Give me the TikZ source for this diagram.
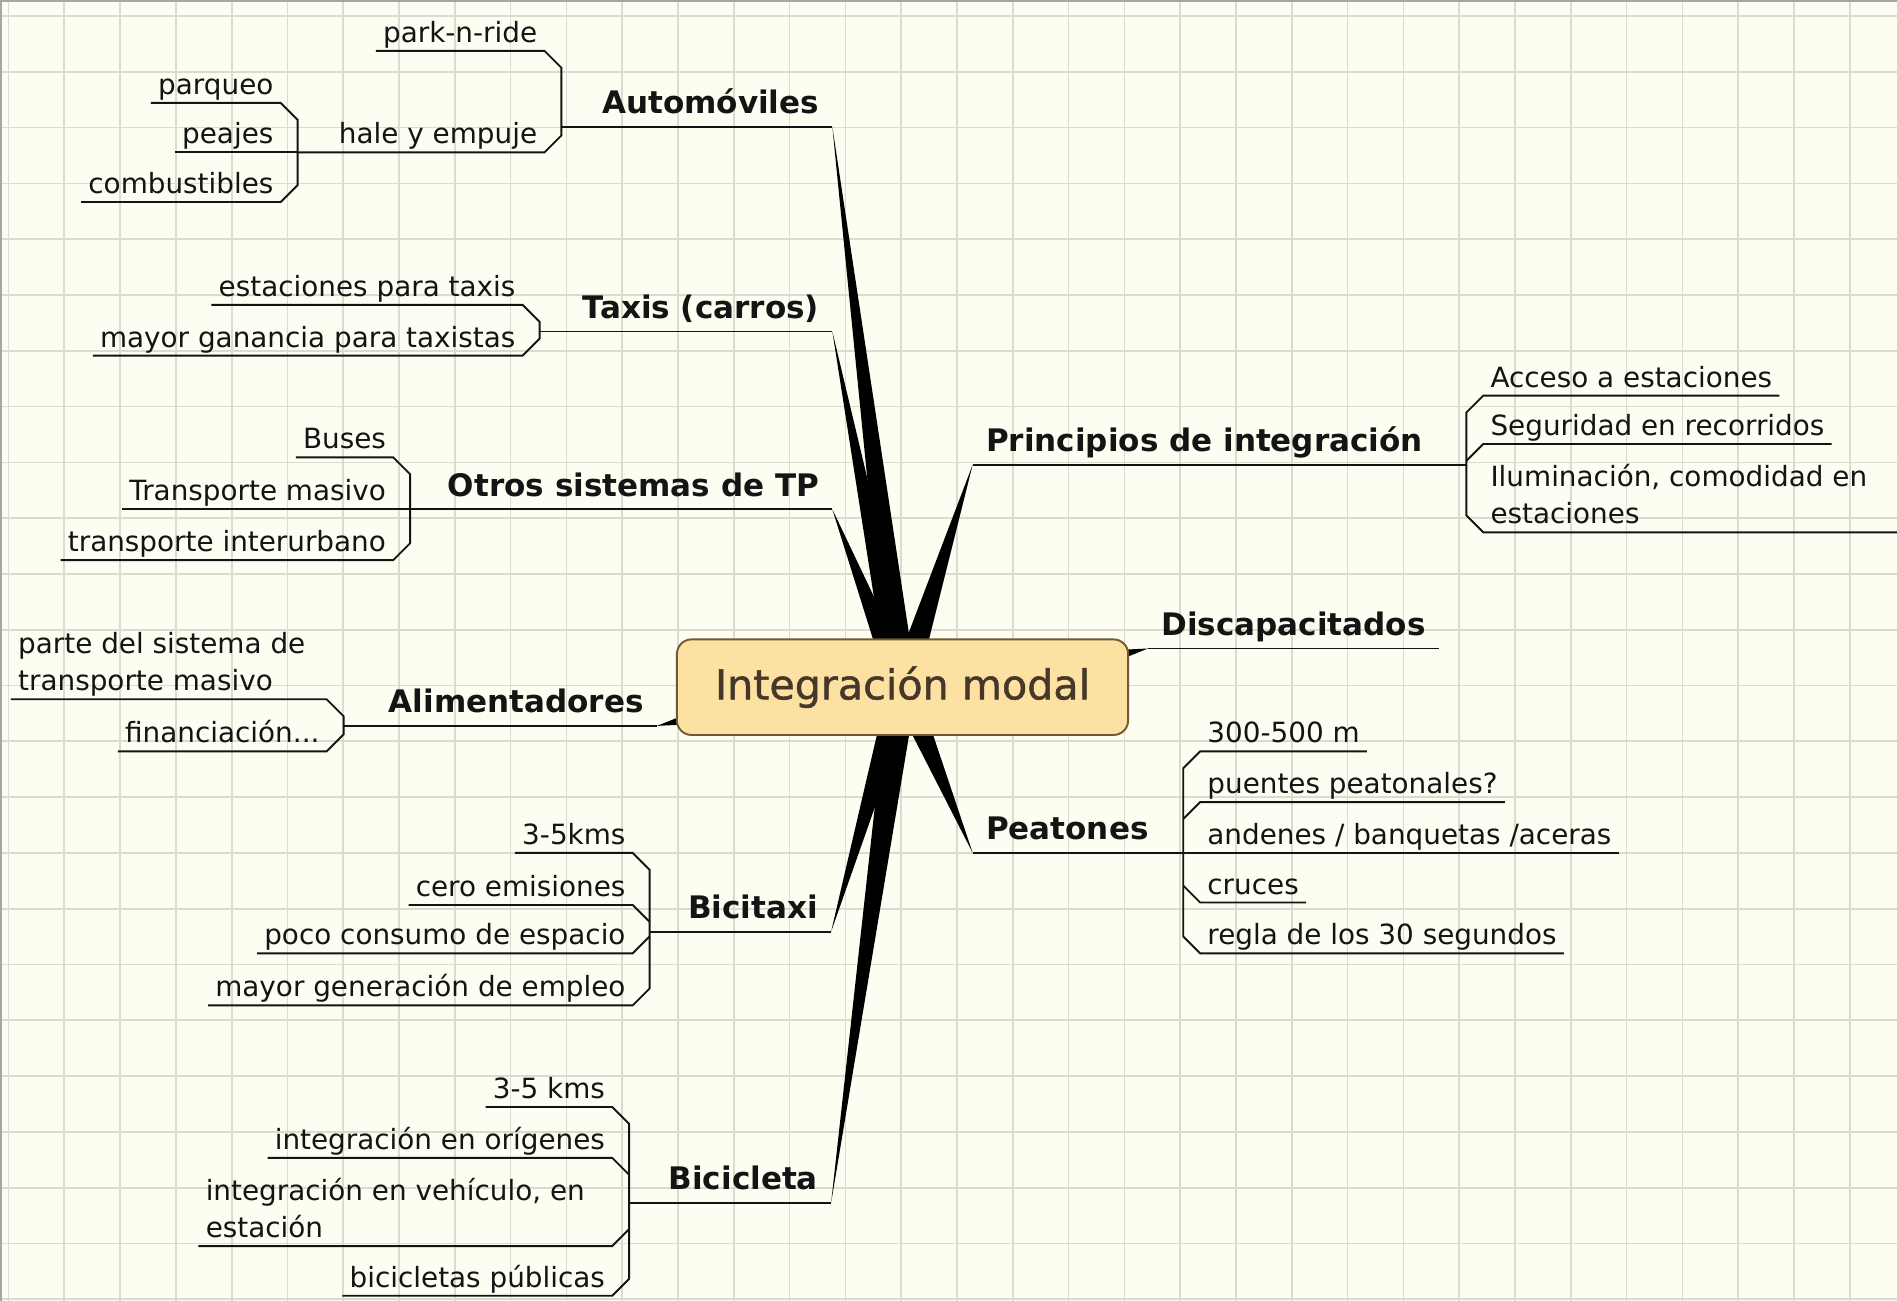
\documentclass[tikz,border=0pt]{standalone}
\usepackage{fontspec}
\setmainfont{DejaVu Sans}
\newfontfamily\hubfamily{DejaVu Sans}[FakeBold=1.2]
\usetikzlibrary{calc}

\definecolor{paper}{HTML}{FDFDF1}
\definecolor{gridc}{HTML}{DCDCCE}
\definecolor{hubfill}{HTML}{FDE1A2}
\definecolor{hubline}{HTML}{6E5A36}
\definecolor{hubtext}{HTML}{45382A}
\definecolor{ink}{HTML}{141414}

\newcommand{\leaffont}{\fontsize{13.1}{17.6}\selectfont}
\newcommand{\topicfont}{\fontsize{14.6}{17.5}\selectfont\bfseries}
\newcommand{\hubfont}{\hubfamily\fontsize{19.4}{23}\selectfont}

\tikzset{
    leaf/.style={font=\leaffont, text=ink, inner xsep=0.12cm, inner ysep=0.14cm, text depth=0pt, outer sep=0pt},
    leafl/.style={leaf, anchor=south east},
    leafr/.style={leaf, anchor=south west},
    topic/.style={font=\topicfont, text=ink, inner xsep=0.22cm, inner ysep=0.22cm, text depth=0pt, outer sep=0pt},
    topicl/.style={topic, anchor=south east},
    topicr/.style={topic, anchor=south west},
    branch/.style={draw=ink, line width=0.9pt},
    spoke/.style={fill=black},
    hub/.style={draw=hubline, fill=hubfill, line width=0.9pt, rounded corners=0.24cm, font=\hubfont, text=hubtext, minimum width=7.46cm, minimum height=1.58cm, inner sep=0pt},
    gridline/.style={draw=gridc, line width=0.8pt},
    edgeline/.style={draw=gray!70, line width=1.2pt}
}

\begin{document}
\begin{tikzpicture}[x=0.02cm, y=-0.02cm]
    % paper with grid
    \useasboundingbox (0,0) rectangle (1568,1075);
    \fill[paper] (0,0) rectangle (1568,1075);
    \foreach \k in {0,...,33}
        \draw[gridline] ({7+46.12*\k},0) -- ++(0,1075);
    \foreach \k in {0,...,23}
        \draw[gridline] (0,{13.2+46.12*\k}) -- ++(1568,0);
    \draw[edgeline] (0.5,1075) -- (0.5,0.5) -- (1568,0.5);

    % main topics
    \node[topicl](auto)         at (688,105)  {Automóviles};
    \node[topicl](taxis)        at (688,274)  {Taxis (carros)};
    \node[topicl](otros)        at (688,421)  {Otros sistemas de TP};
    \node[topicl](alim)         at (543,600)  {Alimentadores};
    \node[topicl](bicitaxi)     at (687,770)  {Bicitaxi};
    \node[topicl](bicicleta)    at (687,994)  {Bicicleta};
    \node[topicr](princ)        at (804,384)  {Principios de integración};
    \node[topicr](disc)         at (949,536)  {Discapacitados};
    \node[topicr](peat)         at (804,705)  {Peatones};

    % bracket points
    \coordinate (auto_br)       at (464,105);
    \coordinate (hale_br)       at (246,126);
    \coordinate (taxis_br)      at (446,274);
    \coordinate (otros_br)      at (339,421);
    \coordinate (alim_br)       at (284,600);
    \coordinate (btx_br)        at (537,770);
    \coordinate (bic_br)        at (520,994);
    \coordinate (princ_br)      at (1212,384);
    \coordinate (peat_br)       at (978,705);

    % leaves, left side
    \node[leafl](parkn)         at (450,42)   {park-n-ride};
    \node[leafl](hale)          at (450,126)  {hale y empuje};
    \node[leafl](parq)          at (232,85)   {parqueo};
    \node[leafl](peaj)          at (232,126)  {peajes};
    \node[leafl](comb)          at (232,167)  {combustibles};
    \node[leafl](estac)         at (432,252)  {estaciones para taxis};
    \node[leafl](mgan)          at (432,294)  {mayor ganancia para taxistas};
    \node[leafl](buses)         at (325,378)  {Buses};
    \node[leafl](tmas)          at (325,421)  {Transporte masivo};
    \node[leafl](tint)          at (325,463)  {transporte interurbano};
    \node[leafl](parte)         at (270,578)  {\parbox[b]{4.98cm}{\raggedright parte del sistema de\\transporte masivo}};
    \node[leafl](finan)         at (270,621)  {financiación...};
    \node[leafl](k35)           at (523,705)  {3-5kms};
    \node[leafl](cero)          at (523,748)  {cero emisiones};
    \node[leafl](poco)          at (523,788)  {poco consumo de espacio};
    \node[leafl](mgen)          at (523,831)  {mayor generación de empleo};
    \node[leafl](k35b)          at (506,915)  {3-5 kms};
    \node[leafl](orig)          at (506,957)  {integración en orígenes};
    \node[leafl](vehic)         at (506,1030) {\parbox[b]{6.6cm}{\raggedright integración en vehículo, en\\estación}};
    \node[leafl](bpub)          at (506,1071) {bicicletas públicas};

    % leaves, right side
    \node[leafr](acc)           at (1226,327) {Acceso a estaciones};
    \node[leafr](seg)           at (1226,367) {Seguridad en recorridos};
    \node[leafr](ilum)          at (1226,440) {\parbox[b]{6.6cm}{\raggedright Iluminación, comodidad en\\estaciones}};
    \node[leafr](m300)          at (992,621)  {300-500 m};
    \node[leafr](puen)          at (992,663)  {puentes peatonales?};
    \node[leafr](anden)         at (992,705)  {andenes / banquetas /aceras};
    \node[leafr](cruc)          at (992,746)  {cruces};
    \node[leafr](regla)         at (992,788)  {regla de los 30 segundos};

    % Automoviles
    \draw[branch] (parkn.south west) -- (parkn.south east) -- ++(14,14)
        -- ($(hale.south east)+(14,-14)$) -- (hale.south east) -- (hale_br);
    \draw[branch] (auto_br) -- (auto.south east);
    \draw[branch] (parq.south west) -- (parq.south east) -- ++(14,14)
        -- ($(comb.south east)+(14,-14)$) -- (comb.south east) -- (comb.south west);
    \draw[branch] (peaj.south west) -- (hale_br);
    % Taxis
    \draw[branch] (estac.south west) -- (estac.south east) -- ++(14,14)
        -- ($(mgan.south east)+(14,-14)$) -- (mgan.south east) -- (mgan.south west);
    \draw[branch] (taxis_br) -- (taxis.south east);
    % Otros sistemas
    \draw[branch] (buses.south west) -- (buses.south east) -- ++(14,14)
        -- ($(tint.south east)+(14,-14)$) -- (tint.south east) -- (tint.south west);
    \draw[branch] (tmas.south west) -- (otros_br) -- (otros.south east);
    % Alimentadores
    \draw[branch] (parte.south west) -- (parte.south east) -- ++(14,14)
        -- ($(finan.south east)+(14,-14)$) -- (finan.south east) -- (finan.south west);
    \draw[branch] (alim_br) -- (alim.south east);
    % Bicitaxi
    \draw[branch] (k35.south west) -- (k35.south east) -- ++(14,14)
        -- ($(mgen.south east)+(14,-14)$) -- (mgen.south east) -- (mgen.south west);
    \draw[branch] (cero.south west) -- (cero.south east) -- ++(14,14);
    \draw[branch] (poco.south west) -- (poco.south east) -- ++(14,-14);
    \draw[branch] (btx_br) -- (bicitaxi.south east);
    % Bicicleta
    \draw[branch] (k35b.south west) -- (k35b.south east) -- ++(14,14)
        -- ($(bpub.south east)+(14,-14)$) -- (bpub.south east) -- (bpub.south west);
    \draw[branch] (orig.south west) -- (orig.south east) -- ++(14,14);
    \draw[branch] (vehic.south west) -- (vehic.south east) -- ++(14,-14);
    \draw[branch] (bic_br) -- (bicicleta.south east);
    % Principios
    \draw[branch] (acc.south east) -- (acc.south west) -- ++(-14,14)
        -- ($(ilum.south west)+(-14,-14)$) -- (ilum.south west) -- (ilum.south east);
    \draw[branch] (seg.south east) -- (seg.south west) -- ++(-14,14);
    \draw[branch] (princ.south west) -- (princ_br);
    % Peatones
    \draw[branch] (m300.south east) -- (m300.south west) -- ++(-14,14)
        -- ($(regla.south west)+(-14,-14)$) -- (regla.south west) -- (regla.south east);
    \draw[branch] (puen.south east) -- (puen.south west) -- ++(-14,14);
    \draw[branch] (cruc.south east) -- (cruc.south west) -- ++(-14,-14);
    \draw[branch] (anden.south east) -- (peat_br) -- (peat.south west);
    % Discapacitados
    \draw[branch] (disc.south west) -- (disc.south east);

    % spokes to the hub
    \coordinate (hub_c) at (746,568);
    \fill[spoke] (auto.south east)      -- ([xshift=-0.24cm]hub_c) -- ([xshift=0.24cm]hub_c) -- cycle;
    \fill[spoke] (taxis.south east)     -- ([xshift=-0.24cm]hub_c) -- ([xshift=0.24cm]hub_c) -- cycle;
    \fill[spoke] (otros.south east)     -- ([xshift=-0.24cm]hub_c) -- ([xshift=0.24cm]hub_c) -- cycle;
    \fill[spoke] (bicitaxi.south east)  -- ([xshift=-0.24cm]hub_c) -- ([xshift=0.24cm]hub_c) -- cycle;
    \fill[spoke] (bicicleta.south east) -- ([xshift=-0.24cm]hub_c) -- ([xshift=0.24cm]hub_c) -- cycle;
    \fill[spoke] (princ.south west)     -- ([xshift=-0.24cm]hub_c) -- ([xshift=0.24cm]hub_c) -- cycle;
    \fill[spoke] (peat.south west)      -- ([xshift=-0.24cm]hub_c) -- ([xshift=0.24cm]hub_c) -- cycle;
    \fill[spoke] (alim.south east)      -- ($(hub_c)+(-183,24)$) -- ($(hub_c)+(-183,31)$) -- cycle;
    \fill[spoke] (disc.south west)      -- ($(hub_c)+(183,-31)$) -- ($(hub_c)+(183,-24)$) -- cycle;

    \node[hub](hub) at (hub_c) {Integración modal};
\end{tikzpicture}
\end{document}
